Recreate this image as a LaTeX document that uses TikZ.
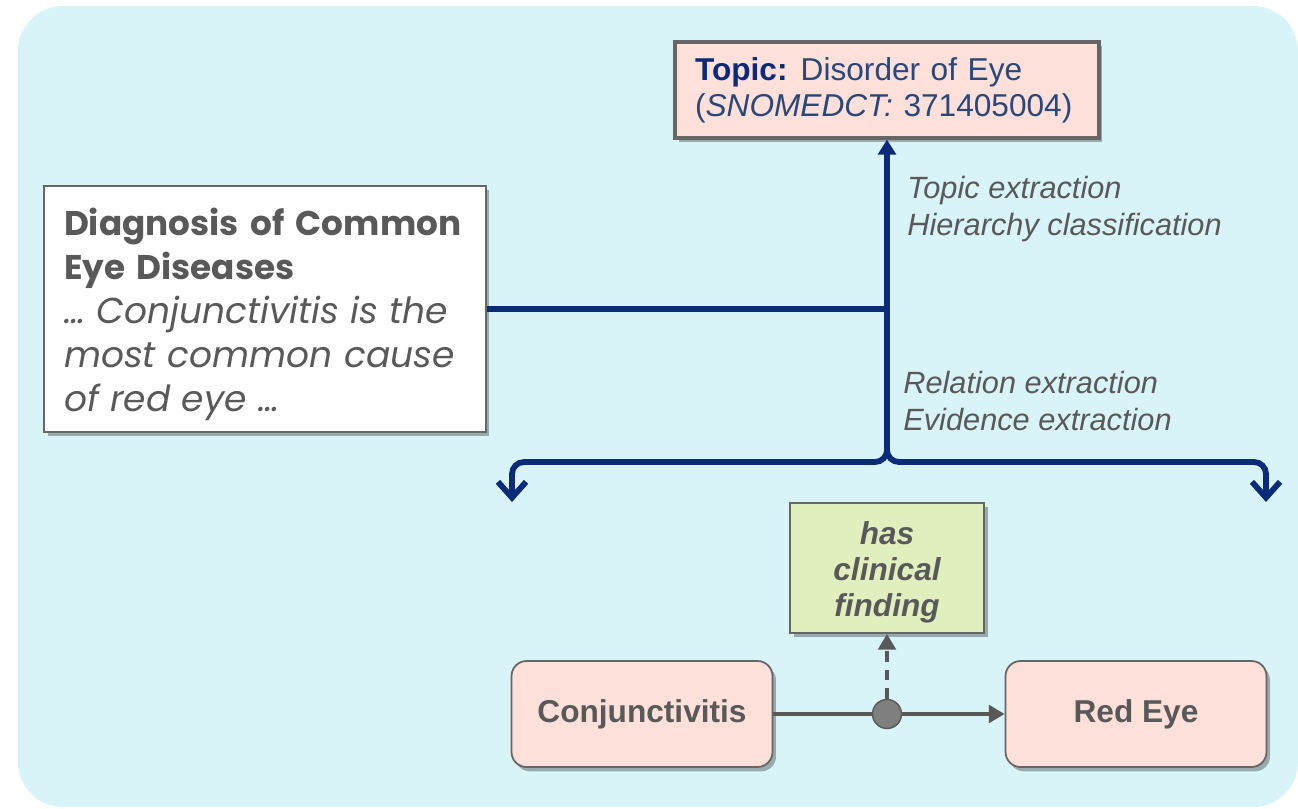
\documentclass[tikz,border=0pt]{standalone}
\usepackage{fontspec}
\setmainfont{Liberation Sans}
\newfontfamily\gothicfont{Poppins}
\usetikzlibrary{positioning,arrows.meta,shadows}

\definecolor{bgcyan}{HTML}{D9F4F8}
\definecolor{conceptpink}{HTML}{FDE0D9}
\definecolor{relgreen}{HTML}{E1EFBF}
\definecolor{navy}{HTML}{0B2A7A}
\definecolor{topicblue}{HTML}{2A477A}
\definecolor{textgray}{HTML}{595959}
\definecolor{framegray}{HTML}{666666}
\definecolor{hubgray}{HTML}{7F7F7F}

\begin{document}
\begin{tikzpicture}[x=0.02cm,y=-0.02cm,
    shadowed/.style={drop shadow={shadow xshift=2pt, shadow yshift=-2.5pt, opacity=0.3, fill=black}},
    topicbox/.style={draw=framegray, line width=1.8pt, fill=conceptpink, shadowed,
        minimum width=8.48cm, minimum height=1.92cm, text width=7.68cm, inner xsep=0.4cm,
        align=left, font=\fontsize{18}{20.5}\selectfont, text=topicblue},
    docbox/.style={draw=framegray, line width=1pt, fill=white, shadowed,
        minimum width=8.84cm, minimum height=4.92cm, text width=8.04cm, inner xsep=0.4cm,
        align=left, font=\gothicfont\fontsize{19.5}{25}\selectfont, text=textgray},
    relbox/.style={draw=framegray, line width=1pt, fill=relgreen, shadowed,
        minimum width=3.88cm, minimum height=2.6cm, align=center,
        font=\fontsize{18}{20.5}\selectfont\bfseries\itshape, text=textgray},
    conceptbox/.style={draw=framegray, line width=1pt, fill=conceptpink, shadowed,
        rounded corners=0.3cm, minimum width=5.22cm, minimum height=2.12cm,
        font=\fontsize{18}{20}\selectfont\bfseries, text=textgray},
    steplabel/.style={align=left, inner sep=0pt, text=textgray,
        font=\fontsize{17.5}{21}\selectfont\itshape},
    flow/.style={draw=navy, line width=3.3pt},
    relline/.style={draw=textgray, line width=2pt}]

    \useasboundingbox (0,0) rectangle (1298,808);
    \fill[bgcyan, rounded corners=0.9cm] (18,6) rectangle (1298,807);

    % boxes
    \node[topicbox] (topic) at (887,90)
        {{\bfseries\color{navy}Topic:}\hspace{-1.5pt} Disorder of Eye\\(\textit{SNOMEDCT:} 371405004)};
    \node[docbox] (doc) at (265,309)
        {\rule{0pt}{22pt}\textbf{Diagnosis of Common}\\\textbf{Eye Diseases}\\{\fontsize{20.5}{25}\selectfont\itshape … Conjunctivitis is the\\most common cause\\of red eye …}};
    \node[relbox] (rel) at (887,568) {\rule{0pt}{18pt}has\\clinical\\finding};
    \node[conceptbox] (conj) at (642,714) {Conjunctivitis};
    \node[conceptbox] (redeye) at (1136,714) {Red Eye};
    \node[circle, draw=textgray, fill=hubgray, line width=0.8pt, minimum width=0.56cm,
        minimum height=0.58cm, inner sep=0pt] (hub) at (887,714) {};

    % step labels
    \node[steplabel, anchor=west] (toplabel) at (907,209) {Topic extraction\\Hierarchy classification};
    \node[steplabel, anchor=west] (rellabel) at (903,401) {Relation extraction\\Evidence extraction};

    % navy flow
    \coordinate (split) at (887,450);
    \coordinate (lefttip) at (512,502);
    \coordinate (righttip) at (1266,502);
    \draw[flow, -{Triangle[width=10pt,length=8.5pt]}] (split) -- (topic.south);
    \draw[flow] (doc.east) -- (doc.east -| topic.south);
    \draw[flow, -{Straight Barb[length=9pt,width=16pt]}]
        (split) to[out=-90,in=0] (875,462) -- (524,462) to[out=180,in=90] (lefttip |- 474,474) -- (lefttip);
    \draw[flow, -{Straight Barb[length=9pt,width=16pt]}]
        (split) to[out=-90,in=180] (899,462) -- (1254,462) to[out=0,in=90] (righttip |- 474,474) -- (righttip);

    % relation
    \draw[relline] (conj.east) -- (hub);
    \draw[relline, -{Triangle[width=10pt,length=9pt]}] (hub) -- (redeye.west);
    \draw[relline, dash pattern=on 6pt off 4.5pt, -{Triangle[width=10pt,length=9pt]}] (hub.north) -- (rel.south);
\end{tikzpicture}
\end{document}
